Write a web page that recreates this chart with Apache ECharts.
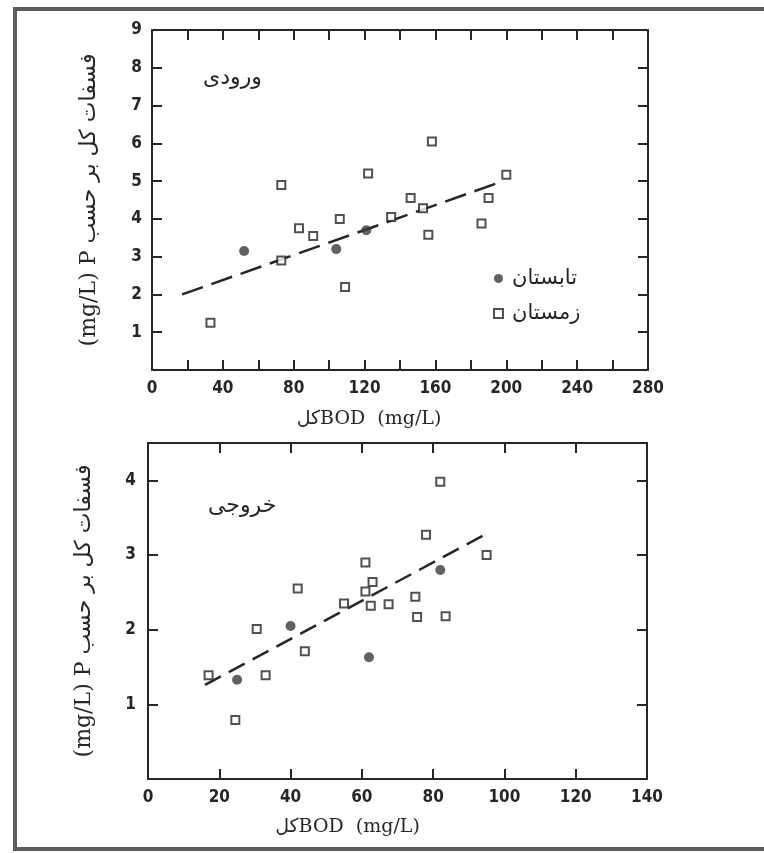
<!DOCTYPE html>
<html>
<head>
<meta charset="utf-8">
<script src="https://cdn.jsdelivr.net/npm/echarts@6/dist/echarts.min.js"></script>
<style>
html,body{margin:0;padding:0;background:#fff;}
#c{width:764px;height:853px;}
</style>
</head>
<body>
<div id="c"></div>
<script>
// ---- Data: inlet (ورودی) ----
const inletSummerBOD = [52, 104, 121];
const inletSummerP   = [3.15, 3.2, 3.7];
const inletWinterBOD = [33, 73, 73, 83, 91, 106, 109, 122, 135, 146, 153, 156, 158, 186, 190, 200];
const inletWinterP   = [1.25, 4.9, 2.9, 3.75, 3.55, 4.0, 2.2, 5.2, 4.05, 4.55, 4.28, 3.58, 6.05, 3.88, 4.55, 5.17];
const inletTrendBOD  = [17, 194];
const inletTrendP    = [2.0, 4.93];

// ---- Data: outlet (خروجی) ----
const outletSummerBOD = [25, 40, 62, 82];
const outletSummerP   = [1.33, 2.05, 1.63, 2.8];
const outletWinterBOD = [17, 24.5, 30.5, 33, 42, 44, 55, 61, 61, 63, 62.5, 67.5, 75, 75.5, 78, 82, 83.5, 95];
const outletWinterP   = [1.39, 0.79, 2.01, 1.39, 2.55, 1.71, 2.35, 2.9, 2.51, 2.64, 2.32, 2.34, 2.44, 2.17, 3.27, 3.98, 2.18, 3.0];
const outletTrendBOD  = [16, 96];
const outletTrendP    = [1.26, 3.31];

// ---- Tick labels ----
const inletXLabels  = [0, 40, 80, 120, 160, 200, 240, 280];
const inletYLabels  = [1, 2, 3, 4, 5, 6, 7, 8, 9];
const outletXLabels = [0, 20, 40, 60, 80, 100, 120, 140];
const outletYLabels = [1, 2, 3, 4];

const seriesNames = ['تابستان', 'زمستان'];
const panelTitles = ['ورودی', 'خروجی'];
const yName = '(mg/L) P ' + 'فسفات کل بر حسب';
const xName = 'کل' + 'BOD  (mg/L)';

const zip = (a, b) => a.map((v, i) => [v, b[i]]);
const INK = '#262626';
const numFont = '"DejaVu Sans Condensed","Liberation Sans Narrow","DejaVu Sans",sans-serif';
const nameFont = '"DejaVu Serif","Liberation Serif","DejaVu Sans",serif';
const numStyle = { fontFamily: numFont, fontSize: 17, fontWeight: 'bold', color: INK };

function lbl(list) {
  return v => (list.indexOf(Math.round(v * 1000) / 1000) >= 0 ? String(v) : '');
}
function axisBase(extra) {
  return Object.assign({
    type: 'value',
    axisLine: { show: true, onZero: false, lineStyle: { color: INK, width: 2 } },
    axisTick: { show: true, inside: true, length: 10, lineStyle: { color: INK, width: 2 } },
    splitLine: { show: false },
    axisLabel: { show: false }
  }, extra);
}

const chart = echarts.init(document.getElementById('c'), null, { renderer: 'canvas' });
chart.setOption({
  animation: false,
  backgroundColor: '#ffffff',
  title: [
    { text: panelTitles[0], left: 198, top: 62, textStyle: { fontFamily: '"DejaVu Sans",sans-serif', fontSize: 22, fontWeight: 'normal', color: INK } },
    { text: panelTitles[1], left: 203, top: 490, textStyle: { fontFamily: '"DejaVu Sans",sans-serif', fontSize: 22, fontWeight: 'normal', color: INK } }
  ],
  legend: {
    data: seriesNames,
    orient: 'vertical',
    left: 488,
    top: 263,
    itemWidth: 9,
    itemHeight: 9,
    itemGap: 14,
    textStyle: { fontFamily: '"DejaVu Sans",sans-serif', fontSize: 21, color: INK, padding: [0, 0, 0, 4] }
  },
  grid: [
    { left: 152, top: 30, width: 496, height: 340 },
    { left: 148, top: 443, width: 499, height: 336 }
  ],
  xAxis: [
    axisBase({ gridIndex: 0, position: 'bottom', min: 0, max: 280, interval: 20,
      axisLabel: Object.assign({ show: true, margin: 10, formatter: lbl(inletXLabels) }, numStyle),
      name: xName, nameLocation: 'middle', nameGap: 40,
      nameTextStyle: { fontFamily: nameFont, fontSize: 19, color: INK, padding: [0, 62, 0, 0] } }),
    axisBase({ gridIndex: 0, position: 'top', min: 0, max: 280, interval: 20 }),
    axisBase({ gridIndex: 1, position: 'bottom', min: 0, max: 140, interval: 20,
      axisLabel: Object.assign({ show: true, margin: 10, formatter: lbl(outletXLabels) }, numStyle),
      name: xName, nameLocation: 'middle', nameGap: 39,
      nameTextStyle: { fontFamily: nameFont, fontSize: 19, color: INK, padding: [0, 100, 0, 0] } }),
    axisBase({ gridIndex: 1, position: 'top', min: 0, max: 140, interval: 20 })
  ],
  yAxis: [
    axisBase({ gridIndex: 0, position: 'left', min: 0, max: 9, interval: 1,
      axisLabel: Object.assign({ show: true, margin: 10, formatter: lbl(inletYLabels) }, numStyle),
      name: yName, nameLocation: 'middle', nameGap: 52, nameRotate: 90,
      nameTextStyle: { fontFamily: nameFont, fontSize: 22, color: INK } }),
    axisBase({ gridIndex: 0, position: 'right', min: 0, max: 9, interval: 1 }),
    axisBase({ gridIndex: 1, position: 'left', min: 0, max: 4.5, interval: 1,
      axisLabel: Object.assign({ show: true, margin: 12, formatter: lbl(outletYLabels) }, numStyle),
      name: yName, nameLocation: 'middle', nameGap: 53, nameRotate: 90,
      nameTextStyle: { fontFamily: nameFont, fontSize: 22, color: INK } }),
    axisBase({ gridIndex: 1, position: 'right', min: 0, max: 4.5, interval: 1 })
  ],
  series: [
    { name: 'trend-in', type: 'line', xAxisIndex: 0, yAxisIndex: 0, data: zip(inletTrendBOD, inletTrendP),
      showSymbol: false, silent: true, lineStyle: { color: INK, width: 2.5, type: [22, 9] }, z: 1 },
    { name: seriesNames[0], type: 'scatter', xAxisIndex: 0, yAxisIndex: 0, data: zip(inletSummerBOD, inletSummerP),
      symbol: 'circle', symbolSize: 10, itemStyle: { color: '#3a3a3a' }, z: 3 },
    { name: seriesNames[1], type: 'scatter', xAxisIndex: 0, yAxisIndex: 0, data: zip(inletWinterBOD, inletWinterP),
      symbol: 'rect', symbolSize: 8, itemStyle: { color: '#ffffff', borderColor: INK, borderWidth: 2 }, z: 3 },

    { name: 'trend-out', type: 'line', xAxisIndex: 2, yAxisIndex: 2, data: zip(outletTrendBOD, outletTrendP),
      showSymbol: false, silent: true, lineStyle: { color: INK, width: 2.5, type: [18, 9] }, z: 1 },
    { name: seriesNames[0], type: 'scatter', xAxisIndex: 2, yAxisIndex: 2, data: zip(outletSummerBOD, outletSummerP),
      symbol: 'circle', symbolSize: 10, itemStyle: { color: '#3a3a3a' }, z: 3 },
    { name: seriesNames[1], type: 'scatter', xAxisIndex: 2, yAxisIndex: 2, data: zip(outletWinterBOD, outletWinterP),
      symbol: 'rect', symbolSize: 8, itemStyle: { color: '#ffffff', borderColor: INK, borderWidth: 2 }, z: 3 }
  ],
  graphic: [
    { type: 'polyline', shape: { points: [[770, 9], [15, 9], [15, 849], [770, 849]] },
      style: { stroke: '#5c5c5c', lineWidth: 4, fill: null }, silent: true }
  ]
});
</script>
</body>
</html>
